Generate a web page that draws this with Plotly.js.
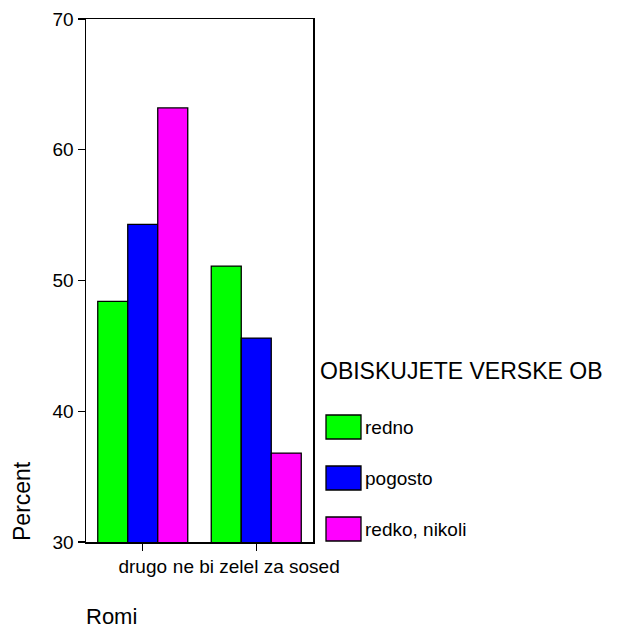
<!DOCTYPE html>
<html>
<head>
<meta charset="utf-8">
<script src="https://cdn.plot.ly/plotly-3.0.1.min.js"></script>
<style>html,body{margin:0;padding:0;background:#fff;}#chart{width:618px;height:632px;}</style>
</head>
<body>
<div id="chart"></div>
<script>
// ---- data ----
const categories = ['drugo', 'ne bi zelel za sosed'];
const seriesNames = ['redno', 'pogosto', 'redko, nikoli'];
const redno = [48.4, 51.1];
const pogosto = [54.3, 45.6];
const redkoNikoli = [63.2, 36.8];
const yTickValues = [30, 40, 50, 60, 70];
const legendTitle = 'OBISKUJETE VERSKE OB';
const yTitle = 'Percent';
const footerLabel = 'Romi';

// ---- styles ----
const colors = ['#00FF00', '#0000FF', '#FF00FF'];
const FONT = 'Arial, "Liberation Sans", sans-serif';
const W = 618, H = 632;
const M = {l: 86, r: 305, t: 19, b: 90};
const PW = W - M.l - M.r, PH = H - M.t - M.b;
const px2x = px => (px - M.l) / PW;
const px2y = py => (H - M.b - py) / PH;

const values = [redno, pogosto, redkoNikoli];
const traces = values.map((v, i) => ({
  type: 'bar',
  name: seriesNames[i],
  x: categories,
  y: v,
  marker: {color: colors[i], line: {color: '#000', width: 1.3}},
  hoverinfo: 'x+y+name'
}));

// custom legend (large swatches as in the reference)
const shapes = [];
const annotations = [];
const swatchTops = [415, 466, 517];
seriesNames.forEach((name, i) => {
  const top = swatchTops[i];
  shapes.push({
    type: 'rect', xref: 'paper', yref: 'paper',
    x0: px2x(326), x1: px2x(361), y0: px2y(top + 24), y1: px2y(top),
    fillcolor: colors[i], line: {color: '#000', width: 1.3}
  });
  annotations.push({
    xref: 'paper', yref: 'paper', x: px2x(363), y: px2y(top + 12.5),
    xanchor: 'left', yanchor: 'middle', showarrow: false,
    text: name, font: {family: FONT, size: 19, color: '#000'}
  });
});
annotations.push({
  xref: 'paper', yref: 'paper', x: px2x(318), y: px2y(371),
  xanchor: 'left', yanchor: 'middle', showarrow: false,
  text: legendTitle, font: {family: FONT, size: 23, color: '#000'}
});
annotations.push({
  xref: 'paper', yref: 'paper', x: px2x(22), y: px2y(501),
  xanchor: 'center', yanchor: 'middle', showarrow: false, textangle: -90,
  text: yTitle, font: {family: FONT, size: 23, color: '#000'}
});
annotations.push({
  xref: 'paper', yref: 'paper', x: px2x(84), y: px2y(631),
  xanchor: 'left', yanchor: 'bottom', showarrow: false,
  text: footerLabel, font: {family: FONT, size: 22, color: '#000'}
});

const layout = {
  width: W, height: H,
  margin: M,
  paper_bgcolor: '#fff', plot_bgcolor: '#fff',
  showlegend: false,
  barmode: 'group',
  bargap: 0.207, bargroupgap: 0,
  font: {family: FONT, color: '#000'},
  xaxis: {
    type: 'category',
    showline: true, linecolor: '#000', linewidth: 1.5, mirror: true,
    ticks: 'outside', ticklen: 7, tickcolor: '#000', tickwidth: 1.3,
    showgrid: false, zeroline: false,
    tickfont: {family: FONT, size: 19, color: '#000'}
  },
  yaxis: {
    range: [30, 70], tickvals: yTickValues, ticktext: yTickValues.map(String),
    showline: true, linecolor: '#000', linewidth: 1.5, mirror: true,
    ticks: 'outside', ticklen: 7, tickcolor: '#000', tickwidth: 1.3,
    showgrid: false, zeroline: false,
    tickfont: {family: FONT, size: 19, color: '#000'}
  },
  shapes: shapes,
  annotations: annotations
};

Plotly.newPlot('chart', traces, layout, {displayModeBar: false, staticPlot: true});
</script>
</body>
</html>
